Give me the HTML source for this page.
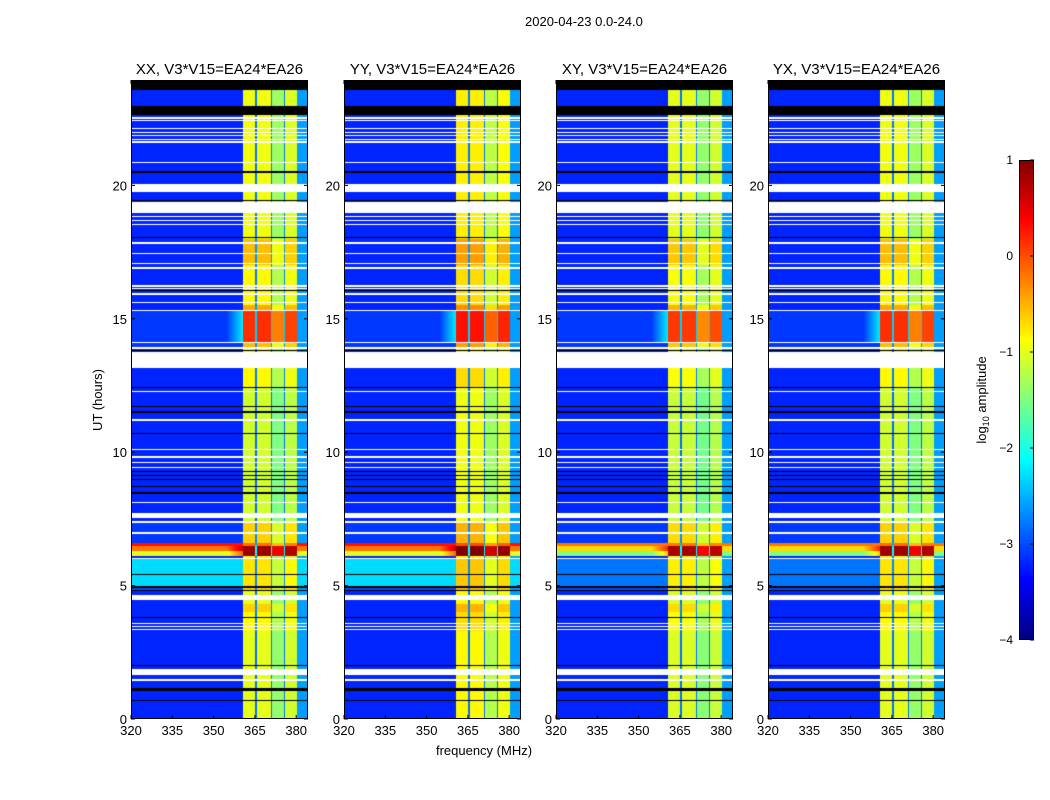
<!DOCTYPE html>
<html><head><meta charset="utf-8">
<style>
body{margin:0;background:#fff;width:1050px;height:800px;overflow:hidden;position:relative;font-family:"Liberation Sans",sans-serif;}
.t{position:absolute;font-size:13px;color:#000;white-space:nowrap;}
canvas{position:absolute;}
svg{position:absolute;left:0;top:0;}
</style></head>
<body>
<div class="t" style="left:525px;top:14px;">2020-04-23 0.0-24.0</div>
<div id="wrap"></div>
<svg id="ov" width="1050" height="800"></svg>
<script>
// ---- data ----
const panelTitles = ["XX, V3*V15=EA24*EA26","YY, V3*V15=EA24*EA26","XY, V3*V15=EA24*EA26","YX, V3*V15=EA24*EA26"];
const panelOffset = [0, 0.15, -0.05, 0.0];
const panelBgOffset = [0, 0, -0.5, -0.5];
const xTicks = [320,335,350,365,380];
const yTicks = [0,5,10,15,20];
const cbTicks = [1,0,-1,-2,-3,-4];
// frequency bands [startMHz, endMHz, level]
const bandStart = [360.7,365.6,371.1,375.8];
const bandEnd   = [365.2,370.7,375.4,380.2];
const bandLevel = [-0.95,-0.95,-1.35,-1.05];
const gapLevel = -2.8;
const bgLevel = -3.2;
const rightLevel = -2.6;
// time segments
const segStart = [0,3.3,4.0,4.8,5.0,6.1,6.3,6.5,6.6,7.4,12.4,13.9,14.1,15.3,15.5,17.0,18.0];
const segEnd   = [3.3,4.0,4.3,5.0,6.0,6.3,6.5,6.6,7.4,12.4,13.2,14.1,15.3,15.5,17.0,18.0,24];
const segBoost = [-0.05,0.1,0.3,0.3,0.2,1.8,1.8,0.8,0.3,-0.15,0.1,0.4,1.1,0.5,0.1,0.4,0.0];
const segBg    = [-3.2,-3.2,-3.2,-3.0,-2.3,-1.0,-0.2,0.3,-3.1,-3.2,-3.2,-3.1,-3.1,-3.2,-3.2,-3.2,-3.2];
// flagged intervals
const whiteStart = [1.65,1.44,3.33,3.45,3.55,4.45,6.0,6.95,7.36,7.55,8.08,9.4,9.6,9.8,10.08,11.18,12.26,13.15,13.88,14.08,15.28,15.58,15.9,16.1,16.2,16.88,17.06,17.43,17.81,18.5,18.65,18.8,18.95,19.74,20.84,21.6,21.7,21.85,21.96,22.1,22.4,22.5];
const whiteEnd   = [1.87,1.5,3.38,3.5,3.6,4.65,6.05,7.0,7.41,7.72,8.13,9.44,9.64,9.84,10.13,11.26,12.31,13.75,13.93,14.13,15.33,15.63,15.95,16.15,16.25,16.93,17.11,17.48,17.86,18.55,18.7,18.85,19.36,20.04,20.89,21.65,21.75,21.9,22.01,22.15,22.45,22.55];
const blackStart = [0.68,1.06,1.99,3.78,4.8,4.92,5.38,8.45,8.7,8.95,9.1,9.25,10.68,11.48,11.68,12.41,13.78,16.04,18.03,19.42,20.48,22.62,23.57];
const blackEnd   = [0.72,1.17,2.04,3.84,4.85,4.97,5.44,8.5,8.75,9.0,9.15,9.3,10.73,11.53,11.73,12.46,13.83,16.09,18.08,19.47,20.53,22.96,24.0];

// ---- layout ----
const panelLeft=[131,344,556,768], PW=177, PT=80, PB=719;
const fMin=320, pxPerMHz=41.3/15, pxPerHr=26.68;
function xScale(i,f){return panelLeft[i]+(f-fMin)*pxPerMHz;}
function yScale(h){return PB-h*pxPerHr;}
function xInv(i,x){return fMin+(x-panelLeft[i])/pxPerMHz;}
function yInv(y){return (PB-y)/pxPerHr;}

function jet(t){t=Math.max(0,Math.min(1,t));
 const c=v=>Math.round(255*Math.max(0,Math.min(1,v)));
 return [c(1.5-Math.abs(4*t-3)),c(1.5-Math.abs(4*t-2)),c(1.5-Math.abs(4*t-1))];}
function inAny(h,s,e){for(let k=0;k<s.length;k++) if(h>=s[k]&&h<e[k]) return true;return false;}
function value(p,f,h){
 let seg=0;for(let k=0;k<segStart.length;k++) if(h>=segStart[k]&&h<segEnd[k]) seg=k;
 let bi=-1;for(let k=0;k<bandStart.length;k++) if(f>=bandStart[k]&&f<bandEnd[k]) bi=k;
 if(bi>=0) return bandLevel[bi]+segBoost[seg]+panelOffset[p];
 if(f>=bandStart[0]&&f<bandEnd[bandEnd.length-1]) return gapLevel+segBoost[seg]*0.4;
 let bg=segBg[seg];
 if(bg>-3) bg=Math.max(bg+panelBgOffset[p],bgLevel);
 if(f>bandEnd[bandEnd.length-1]) return Math.max(bg,rightLevel);
 const d=bandStart[0]-f; if(d<6 && segBoost[seg]>0.9) bg+= (6-d)/6*0.9;
 return bg;}

const wrap=document.getElementById('wrap');
const ov=document.getElementById('ov');
const NS="http://www.w3.org/2000/svg";
function mk(tag,attrs,parent){const e=document.createElementNS(NS,tag);for(const k in attrs)e.setAttribute(k,attrs[k]);(parent||ov).appendChild(e);return e;}

for(let p=0;p<4;p++){
 const cv=document.createElement('canvas');
 
 
 cv.width=PW;cv.height=PB-PT;cv.style.left=panelLeft[p]+'px';cv.style.top=PT+'px';
 wrap.appendChild(cv);
 const ctx=cv.getContext('2d');const img=ctx.createImageData(PW,PB-PT);
 for(let y=0;y<PB-PT;y++){const h=yInv(PT+y+0.5);
  for(let x=0;x<PW;x++){const f=xInv(p,panelLeft[p]+x+0.5);
   let col;
   if(inAny(h,blackStart,blackEnd)) col=[0,0,0];
   else if(inAny(h,whiteStart,whiteEnd)) col=[255,255,255];
   else col=jet((value(p,f,h)+4)/5);
   const o=(y*PW+x)*4;img.data[o]=col[0];img.data[o+1]=col[1];img.data[o+2]=col[2];img.data[o+3]=255;}}
 ctx.putImageData(img,0,0);
 const fr=mk('rect',{x:panelLeft[p]+0.5,y:PT+0.5,width:PW-1,height:PB-PT-1,fill:'none',stroke:'#000','stroke-width':1});
 
 
 const tt=mk('text',{x:panelLeft[p]+PW/2,y:74,'text-anchor':'middle','font-size':15,'font-family':'Liberation Sans'});
 tt.textContent=panelTitles[p];
 
 
 xTicks.forEach(v=>{const x=xScale(p,v);
  mk('line',{x1:x,x2:x,y1:PB,y2:PB-4,stroke:'#000'});
  mk('line',{x1:x,x2:x,y1:PT,y2:PT+4,stroke:'#000'});
  const t=mk('text',{x:x,y:PB+16,'text-anchor':'middle','font-size':13,'font-family':'Liberation Sans'});
  t.textContent=v;
  
  });
 yTicks.forEach(v=>{const y=yScale(v);
  mk('line',{x1:panelLeft[p],x2:panelLeft[p]+4,y1:y,y2:y,stroke:'#000'});
  mk('line',{x1:panelLeft[p]+PW,x2:panelLeft[p]+PW-4,y1:y,y2:y,stroke:'#000'});
  const t=mk('text',{x:panelLeft[p]-4,y:y+5,'text-anchor':'end','font-size':13,'font-family':'Liberation Sans'});
  t.textContent=v;
  
  });
}
const xl=mk('text',{x:484,y:755,'text-anchor':'middle','font-size':13,'font-family':'Liberation Sans'});
xl.textContent='frequency (MHz)';


const yl=mk('text',{x:0,y:0,'text-anchor':'middle','font-size':13,'font-family':'Liberation Sans',transform:'translate(102,400) rotate(-90)'});
yl.textContent='UT (hours)';



const cbX=1019,cbW=15,cbT=160,cbB=640,vMin=-4,vMax=1;
function cbScale(v){return cbB-(v-vMin)/(vMax-vMin)*(cbB-cbT);}
const cbc=document.createElement('canvas');


cbc.width=cbW;cbc.height=cbB-cbT;cbc.style.left=cbX+'px';cbc.style.top=cbT+'px';wrap.appendChild(cbc);
const cctx=cbc.getContext('2d');
for(let y=0;y<cbB-cbT;y++){const v=vMax-(y+0.5)/(cbB-cbT)*(vMax-vMin);const c=jet((v-vMin)/(vMax-vMin));cctx.fillStyle=`rgb(${c[0]},${c[1]},${c[2]})`;cctx.fillRect(0,y,cbW,1);}
mk('rect',{x:cbX+0.5,y:cbT+0.5,width:cbW-1,height:cbB-cbT-1,fill:'none',stroke:'#000'});
cbTicks.forEach(v=>{const y=cbScale(v);
 mk('line',{x1:cbX+cbW-4,x2:cbX+cbW,y1:y,y2:y,stroke:'#000'});
 const t=mk('text',{x:cbX-6,y:y+4,'text-anchor':'end','font-size':12,'font-family':'Liberation Sans'});
 t.textContent=v<0?'\u2212'+(-v):String(v);
 
 });
const cl=mk('text',{x:0,y:0,'text-anchor':'middle','font-size':13,'font-family':'Liberation Sans',transform:'translate(986,400) rotate(-90)'});
cl.innerHTML='log<tspan font-size="9" dy="3">10</tspan><tspan dy="-3"> amplitude</tspan>';


</script>
</body></html>
